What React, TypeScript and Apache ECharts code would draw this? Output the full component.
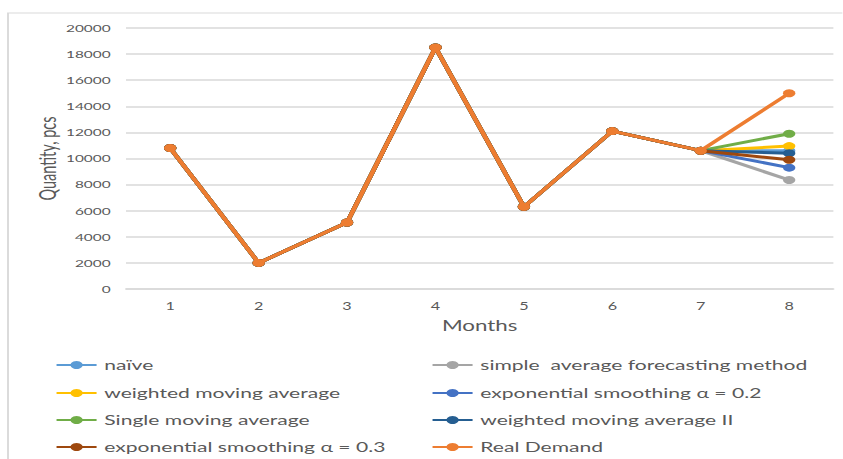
import React, { useEffect, useRef } from "react";
import * as echarts from "echarts";

const months = ["1", "2", "3", "4", "5", "6", "7", "8"];
const history = [10800, 2000, 5100, 18500, 6300, 12100, 10600];

const naive = [...history, 10600];
const simpleAverage = [...history, 8350];
const weightedMA = [...history, 10950];
const expSmoothing02 = [...history, 9300];
const singleMA = [...history, 11900];
const weightedMA2 = [...history, 10400];
const expSmoothing03 = [...history, 9900];
const realDemand = [...history, 15000];

const seriesNames = [
  "naïve",
  "simple  average forecasting method",
  "weighted moving average",
  "exponential smoothing α = 0.2",
  "Single moving average",
  "weighted moving average II",
  "exponential smoothing α = 0.3",
  "Real Demand",
];
const seriesData = [naive, simpleAverage, weightedMA, expSmoothing02, singleMA, weightedMA2, expSmoothing03, realDemand];
const colors = ["#5B9BD5", "#A5A5A5", "#FFC000", "#4472C4", "#70AD47", "#255E91", "#9E480E", "#ED7D31"];

const yTicks = { min: 0, max: 20000, interval: 2000 };

// the reference picture is stretched horizontally
const S = 1.54;
const W = 843 / S;
const H = 459;
const px = (x: number) => x / S;

export default function App() {
  const ref = useRef<HTMLDivElement>(null);
  useEffect(() => {
    document.body.style.margin = "0";
    if (!ref.current) return;
    const chart = echarts.init(ref.current, undefined, { renderer: "svg" });
    const legendText = { color: "#595959", fontSize: 13.7, fontFamily: "Lato" };
    const slots = [
      [0, 0], [1, 0], [0, 1], [1, 1], [0, 2], [1, 2], [0, 3], [1, 3],
    ];
    const rowCenters = [366, 394, 421, 448];
    const colLeft = [55, 431];
    chart.setOption({
      animation: false,
      backgroundColor: "#ffffff",
      graphic: [
        {
          type: "rect",
          shape: { x: px(8), y: 13, width: W, height: 460 },
          style: { fill: "none", stroke: "#d9d9d9", lineWidth: 1.2 },
          silent: true,
          z: -10,
        },
      ],
      grid: { left: px(126), right: px(9), top: 28, bottom: H - 289 },
      legend: seriesNames.map((name, i) => ({
        left: px(colLeft[slots[i][0]]),
        top: rowCenters[slots[i][1]] - 8,
        orient: "horizontal",
        padding: 0,
        itemWidth: 26,
        itemHeight: 10,
        textStyle: legendText,
        data: [name],
      })),
      xAxis: {
        type: "category",
        data: months,
        boundaryGap: true,
        name: "Months",
        nameLocation: "middle",
        nameGap: 29,
        nameMoveOverlap: false,
        nameTextStyle: { color: "#595959", fontSize: 14.5, fontFamily: "Lato" },
        axisLine: { show: true, lineStyle: { color: "#d9d9d9", width: 1.5 } },
        axisTick: { show: false },
        axisLabel: { color: "#595959", fontSize: 10.5, fontFamily: "Lato", margin: 12 },
      },
      yAxis: {
        type: "value",
        min: yTicks.min,
        max: yTicks.max,
        interval: yTicks.interval,
        name: "Quantity, pcs",
        nameLocation: "middle",
        nameGap: 44,
        nameMoveOverlap: false,
        nameTextStyle: { color: "#595959", fontSize: 14.5, fontFamily: "Lato" },
        axisLine: { show: false },
        axisTick: { show: false },
        axisLabel: {
          color: "#595959",
          fontSize: 10,
          fontFamily: "Lato",
          margin: 10,
          formatter: (v: number) => String(v),
        },
        splitLine: { lineStyle: { color: "#d9d9d9", width: 1.5 } },
      },
      series: seriesNames.map((name, i) => ({
        name,
        type: "line",
        data: seriesData[i],
        symbol: "circle",
        symbolSize: 8,
        color: colors[i],
        lineStyle: { width: 3, color: colors[i] },
        itemStyle: { color: colors[i] },
        z: 2 + i,
      })),
    });
    return () => chart.dispose();
  }, []);
  return (
    <div style={{ width: 843, height: H, overflow: "hidden" }}>
      <div
        ref={ref}
        style={{ width: W, height: H, transform: `scaleX(${S})`, transformOrigin: "0 0" }}
      />
    </div>
  );
}
